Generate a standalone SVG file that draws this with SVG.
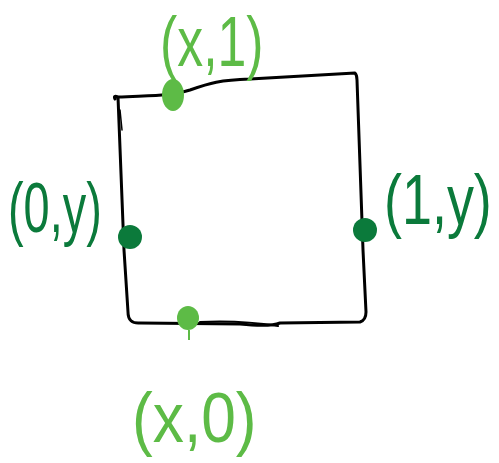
<svg xmlns="http://www.w3.org/2000/svg" width="499" height="463" viewBox="0 0 499 463">
<style>
.box{fill:none;stroke:#000;stroke-width:3;stroke-linecap:round;stroke-linejoin:round}
.lg{fill:#5dbb46}
.dg{fill:#0b7a3b}
.lbl{font-family:"Liberation Sans",Arial,sans-serif;font-size:70px;font-weight:300}
</style>
<rect width="499" height="463" fill="#fff"/>
<g id="square">
<path class="box" d="M115,99 Q113,95 118,97 C150,96 170,96 190,90 C210,83 220,80 250,79 L355,73 Q357,75 357,80 L363,250 L366,312 Q366,320 360,322 L280,323 Q270,327 240,324 L140,323 Q128,324 128,312 L124,250 L118,97"/>
<path class="box" d="M120,110 L122,130" style="stroke-width:1.5"/>
<path class="box" d="M200,322 Q240,320 278,326" style="stroke-width:2"/>
</g>
<g id="top-point">
<ellipse class="lg" cx="173" cy="95" rx="11" ry="16"/>
<text class="lbl lg" transform="translate(160,66) scale(0.74,1)">(x,1)</text>
</g>
<g id="left-point">
<circle class="dg" cx="130" cy="237" r="12"/>
<text class="lbl dg" transform="translate(8,232) scale(0.67,1)">(0,y)</text>
</g>
<g id="right-point">
<circle class="dg" cx="365" cy="230" r="12"/>
<text class="lbl dg" transform="translate(384,224) scale(0.77,1)">(1,y)</text>
</g>
<g id="bottom-point">
<ellipse class="lg" cx="188" cy="318" rx="11" ry="12"/>
<path d="M189,330 L189,340" stroke="#5dbb46" stroke-width="2"/>
<text class="lbl lg" transform="translate(132,442) scale(0.89,1)">(x,0)</text>
</g>
</svg>
